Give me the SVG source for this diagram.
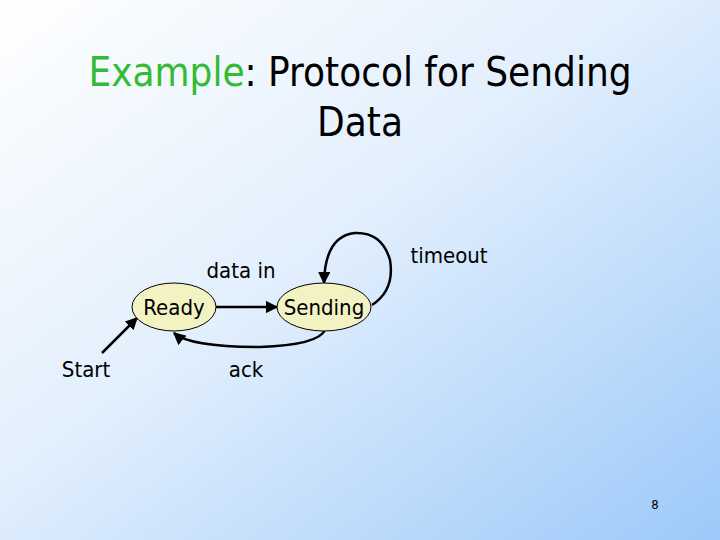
<svg xmlns="http://www.w3.org/2000/svg" width="720" height="540" viewBox="0 0 720 540">
<defs>
<linearGradient id="bg" x1="0" y1="0" x2="1" y2="1">
<stop offset="0" stop-color="#ffffff"/><stop offset="0.45" stop-color="#e2effd"/><stop offset="1" stop-color="#9cc9f9"/>
</linearGradient>
<marker id="ah" viewBox="0 0 10 10" refX="9" refY="5" markerWidth="5" markerHeight="5" orient="auto"><path d="M0,0L10,5L0,10z" fill="#000"/></marker>
<style>
text{font-family:"DejaVu Sans Condensed","DejaVu Sans",sans-serif;fill:#000}
.t{font-size:40px}
.l{font-size:22px}
.n{fill:#f2f2c2;stroke:#000;stroke-width:1}
.c{fill:none;stroke:#000;stroke-width:2.5;marker-end:url(#ah)}
</style>
</defs>
<rect width="720" height="540" fill="url(#bg)"/>
<text class="t" x="360" y="86" text-anchor="middle"><tspan fill="#33bb33">Example</tspan>: Protocol for Sending</text>
<text class="t" x="360" y="136" text-anchor="middle">Data</text>
<g id="connectors">
<path class="c" d="M102,353 L137,318"/>
<path class="c" d="M216,307 L277,307"/>
<path class="c" d="M325,330 Q318,345 260,347 Q190,347 174,333"/>
<path class="c" d="M372,305 Q395,290 390,260 Q382,232 355,233 Q325,236 324,283"/>
</g>
<g id="ready"><ellipse class="n" cx="174" cy="307" rx="42" ry="24"/><text class="l" x="174" y="315" text-anchor="middle">Ready</text></g>
<g id="sending"><ellipse class="n" cx="324" cy="307" rx="47" ry="24"/><text class="l" x="324" y="315" text-anchor="middle">Sending</text></g>
<text class="l" x="241" y="278" text-anchor="middle">data in</text>
<text class="l" x="449" y="263" text-anchor="middle">timeout</text>
<text class="l" x="86" y="377" text-anchor="middle">Start</text>
<text class="l" x="246" y="377" text-anchor="middle">ack</text>
<text x="655" y="509" text-anchor="middle" font-size="13">8</text>
</svg>
